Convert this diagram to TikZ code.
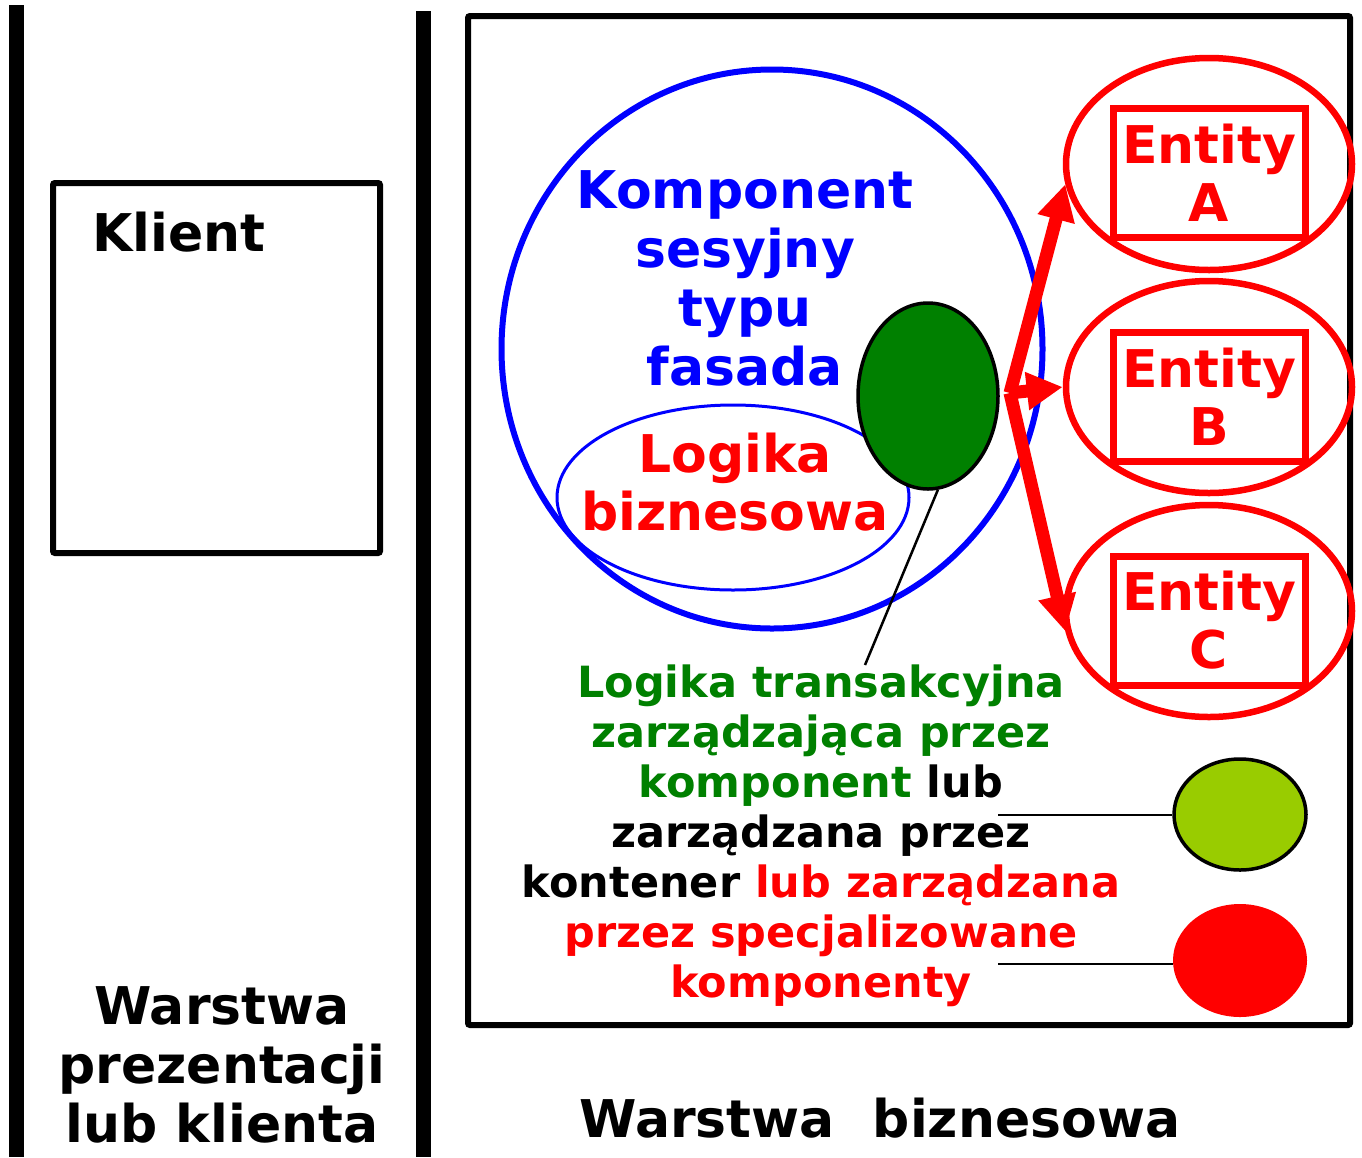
\documentclass[tikz,border=0pt]{standalone}
\usepackage{fontspec}
\setmainfont{DejaVu Sans}
\usetikzlibrary{shapes.geometric,arrows.meta}
\definecolor{fblue}{RGB}{0,0,255}
\definecolor{ered}{RGB}{255,0,0}
\definecolor{tgreen}{RGB}{0,128,0}
\definecolor{lime}{RGB}{153,204,0}
\begin{document}
\begin{tikzpicture}[x=1pt,y=-1pt,
  bigtext/.style={font=\fontsize{52}{59}\selectfont\bfseries, align=center, inner sep=0pt},
  smalltext/.style={font=\fontsize{43}{50}\selectfont\bfseries, align=center, inner sep=0pt},
  oval/.style={ellipse, inner sep=0pt},
  entitybox/.style={draw=ered, line width=7pt, minimum width=192pt, minimum height=129pt,
    inner sep=0pt, bigtext, text=ered, font=\fontsize{52}{58}\selectfont\bfseries},
  entityoval/.style={oval, draw=ered, line width=6.5pt, minimum width=286pt, minimum height=212pt},
  redarrow/.style={draw=ered, line width=13pt, -{Triangle[length=36pt,width=36pt]}},
  pointer/.style={draw=black, line width=2.5pt},
]
\useasboundingbox (0,0) rectangle (1362,1157);
\fill[white] (0,0) rectangle (1362,1157);

% layer separators
\fill[black] (8.5,5) rectangle (24,1157);
\fill[black] (416,11) rectangle (431,1157);

% presentation layer
\node[draw, line width=6pt, rounded corners=2pt, minimum width=327pt, minimum height=370pt,
  inner sep=0pt] (klientbox) at (216.5,368) {};
\node[bigtext] (klient) at (179,232) {Klient};
\node[bigtext] (warstwaP) at (222,1065) {Warstwa\\prezentacji\\lub klienta};

% business layer
\draw[line width=6pt, rounded corners=2pt] (468,16) rectangle (1350,1025);
\node[bigtext] (warstwaB) at (880,1118) {Warstwa\hspace{38pt}biznesowa};

% session facade component
\node[oval, draw=fblue, line width=6pt, minimum width=541pt, minimum height=559pt] (fasada) at (772,349) {};
\node[oval, draw=fblue, line width=3pt, minimum width=352pt, minimum height=185pt] (logika) at (733,497.5) {};
\node[bigtext, text=fblue] (fasadaText) at (745,278) {Komponent\\sesyjny\\typu\\fasada};
\node[bigtext, text=ered, font=\fontsize{52}{58}\selectfont\bfseries] (logikaText) at (735,482) {Logika\\biznesowa};
\node[oval, draw=black, fill=tgreen, line width=3.5pt, minimum width=140pt, minimum height=186pt] (tx) at (928,396) {};

% entity components
\node[entityoval] (ovA) at (1209,164) {};
\node[entityoval] (ovB) at (1209,387) {};
\node[entityoval] (ovC) at (1209,611) {};
\node[entitybox] (entA) at (1209,172.5) {Entity\\A};
\node[entitybox] (entB) at (1209,396.5) {Entity\\B};
\node[entitybox] (entC) at (1209,620.5) {Entity\\C};

% calls from the facade to the entities
\coordinate (hub) at (1010,393);
\draw[redarrow] (hub) -- (ovA.188);
\draw[redarrow] (hub) -- (ovB.west);
\draw[redarrow] (hub) -- (ovC.188);

% transaction logic description
\coordinate (ptrEnd) at (865,665);
\draw[pointer] (tx.-84) -- (ptrEnd);
\node[smalltext] (txText) at (821,836) {%
  \textcolor{tgreen}{Logika transakcyjna}\\
  \textcolor{tgreen}{zarządzająca przez}\\
  \textcolor{tgreen}{komponent} lub\\
  zarządzana przez\\
  kontener \textcolor{ered}{lub zarządzana}\\
  \textcolor{ered}{przez specjalizowane}\\
  \textcolor{ered}{komponenty}};

% legend markers
\node[oval, draw=black, fill=lime, line width=3.5pt, minimum width=132pt, minimum height=111pt] (limeDot) at (1240,814.5) {};
\node[oval, fill=ered, minimum width=134pt, minimum height=113pt] (redDot) at (1240,960.5) {};
\coordinate (limeEnd) at (998,815);
\coordinate (redEnd) at (998,964);
\draw[pointer] (limeEnd) -- (limeDot.west |- limeEnd);
\draw[pointer] (redEnd) -- (redDot.west |- redEnd);
\end{tikzpicture}
\end{document}
